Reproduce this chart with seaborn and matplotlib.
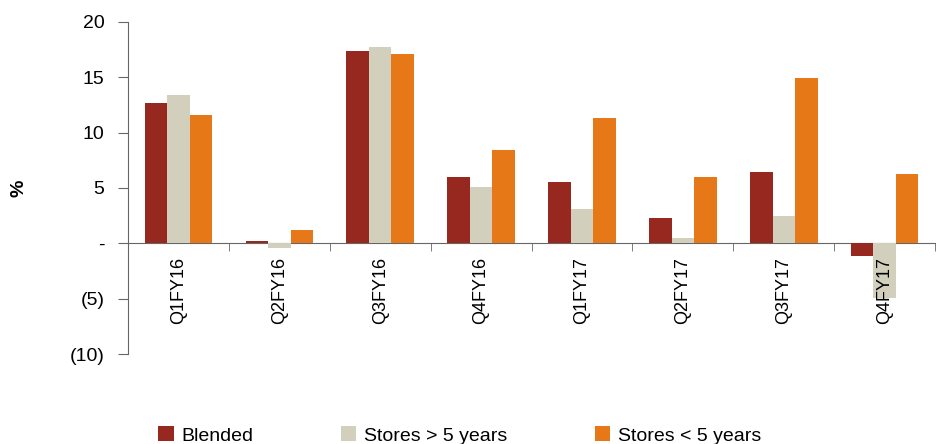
import matplotlib.pyplot as plt
import matplotlib.ticker as mticker
import seaborn as sns
import numpy as np
import pandas as pd


quarters = ['Q1FY16', 'Q2FY16', 'Q3FY16', 'Q4FY16',
            'Q1FY17', 'Q2FY17', 'Q3FY17', 'Q4FY17']
series_names = ['Blended', 'Stores > 5 years', 'Stores < 5 years']
blended = [12.7, 0.2, 17.4, 6.0, 5.5, 2.3, 6.4, -1.1]
older_stores = [13.4, -0.4, 17.7, 5.1, 3.1, 0.5, 2.5, -4.9]
newer_stores = [11.6, 1.2, 17.1, 8.4, 11.3, 6.0, 14.9, 6.3]
y_ticks = [-10, -5, 0, 5, 10, 15, 20]

colors = ['#962820', '#d2cfbc', '#e67817']


def paren_fmt(v, pos):
    # accounting style: negatives in brackets, zero as a dash
    if v == 0:
        return '-'
    if v < 0:
        return '(%d)' % abs(v)
    return '%d' % v


# long format for seaborn
df = pd.DataFrame({
    'quarter': quarters * 3,
    'series': np.repeat(series_names, len(quarters)),
    'value': blended + older_stores + newer_stores,
})

plt.rcParams['font.family'] = ['Liberation Sans', 'DejaVu Sans']

fig = plt.figure(figsize=(9.37, 4.44), dpi=100)
ax = fig.add_axes([0.1366, 0.2027, 0.8614, 0.7478])

sns.barplot(data=df, x='quarter', y='value', hue='series',
            palette=colors, width=0.67, gap=0, saturation=1,
            ax=ax, legend=True)

ax.set_ylim(-10, 20)
ax.set_xlim(-0.5, len(quarters) - 0.5)
ax.yaxis.set_major_locator(mticker.FixedLocator(y_ticks))
ax.yaxis.set_major_formatter(mticker.FuncFormatter(paren_fmt))

# zero line acts as the category axis
for side in ['top', 'right']:
    ax.spines[side].set_visible(False)
ax.spines['bottom'].set_position(('data', 0))
ax.spines['bottom'].set_color('#666666')
ax.spines['left'].set_color('#666666')
ax.spines['bottom'].set_zorder(0)

ax.set_xticks(np.arange(len(quarters)))
ax.set_xticklabels(quarters, rotation=90, fontsize=13)
ax.tick_params(axis='x', which='major', length=0, pad=10)
ax.set_xticks(np.arange(len(quarters) + 1) - 0.5, minor=True)
ax.tick_params(axis='x', which='minor', length=6, direction='out',
               color='#666666')
ax.tick_params(axis='y', length=7, color='#666666', labelsize=14, pad=10)

ax.set_xlabel('')
ax.set_ylabel('%', fontsize=14, fontweight='bold')
ax.yaxis.set_label_coords(-0.125, 0.5)

handles, labels = ax.get_legend_handles_labels()
ax.legend(handles, labels, loc='lower left', bbox_to_anchor=(0.0275, -0.296),
          bbox_transform=ax.transAxes, ncol=3, frameon=False, fontsize=14,
          handlelength=0.8, handleheight=0.8, handletextpad=0.4,
          columnspacing=4.5, borderaxespad=0)

plt.savefig('out.png', dpi=100)
plt.close()
